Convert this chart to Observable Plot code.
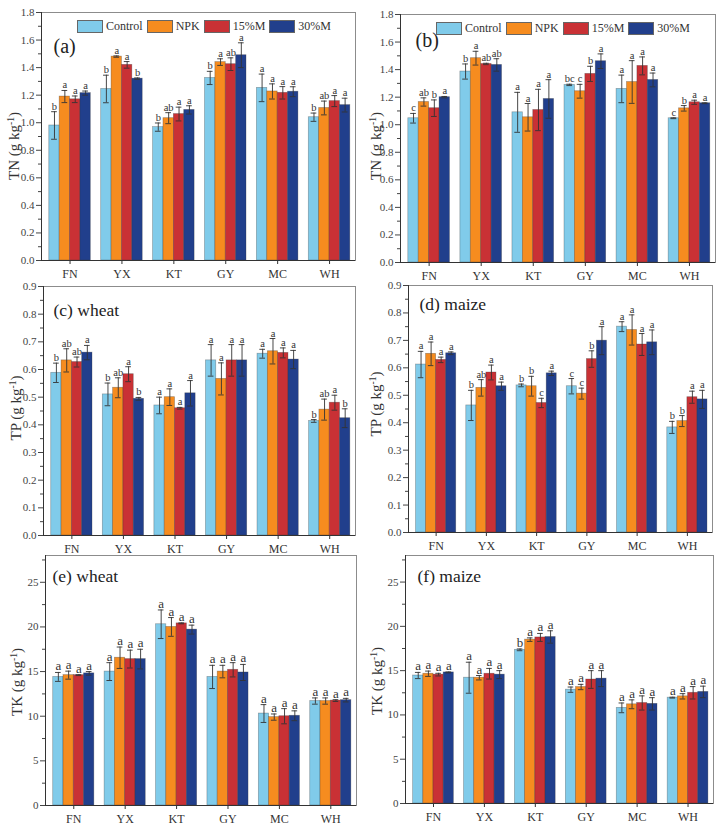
<!DOCTYPE html>
<html>
<head>
<meta charset="utf-8">
<script src="https://cdn.jsdelivr.net/npm/d3@7"></script>
<script src="https://cdn.jsdelivr.net/npm/@observablehq/plot@0.6"></script>
<style>
  body { margin: 0; background: #fff; }
  #fig { position: relative; width: 721px; height: 828px; overflow: hidden;
         font-family: "Liberation Serif", "Times New Roman", serif; }
  #fig > svg { position: absolute; }
  .legend { position: absolute; display: flex; align-items: center; font-size: 12px;
            line-height: 13px; color: #333; white-space: nowrap; }
  .legend .sw { display: inline-block; width: 24px; height: 11px; border: 1px solid #666; margin-right: 3px; }
  .legend .lb { margin-right: 4px; }
</style>
</head>
<body>
<div id="fig"></div>
<script>
// Sites and fertilisation treatments
const sites = ["FN", "YX", "KT", "GY", "MC", "WH"];
const treatments = ["Control", "NPK", "15%M", "30%M"];
const colors = ["#80CBEA", "#F68C1F", "#C93135", "#213F8C"];

// Rows follow `sites`, columns follow `treatments`.
// (a) TN, wheat season
const tnA_mean = [
  [0.98, 1.19, 1.17, 1.215],
  [1.245, 1.48, 1.42, 1.32],
  [0.968, 1.033, 1.063, 1.093],
  [1.325, 1.44, 1.425, 1.49],
  [1.253, 1.227, 1.217, 1.225],
  [1.04, 1.107, 1.157, 1.128]
];
const tnA_err = [
  [0.10, 0.044, 0.024, 0.015],
  [0.10, 0.005, 0.024, 0.005],
  [0.03, 0.04, 0.05, 0.03],
  [0.048, 0.024, 0.046, 0.09],
  [0.10, 0.055, 0.045, 0.036],
  [0.03, 0.05, 0.04, 0.05]
];
const tnA_letters = [
  ["b", "a", "a", "a"], ["b", "a", "a", "b"], ["b", "ab", "a", "a"],
  ["b", "a", "ab", "a"], ["a", "a", "a", "a"], ["b", "ab", "a", "a"]
];

// (b) TN, maize season
const tnB_mean = [
  [1.047, 1.165, 1.12, 1.2],
  [1.386, 1.483, 1.441, 1.434],
  [1.09, 1.054, 1.107, 1.187],
  [1.289, 1.243, 1.369, 1.461],
  [1.26, 1.31, 1.427, 1.325],
  [1.047, 1.119, 1.163, 1.156]
];
const tnB_err = [
  [0.035, 0.03, 0.06, 0.005],
  [0.055, 0.05, 0.005, 0.045],
  [0.145, 0.10, 0.15, 0.14],
  [0.005, 0.05, 0.055, 0.053],
  [0.10, 0.155, 0.065, 0.05],
  [0.003, 0.02, 0.015, 0.003]
];
const tnB_letters = [
  ["c", "ab", "b", "a"], ["b", "a", "ab", "ab"], ["a", "a", "a", "a"],
  ["bc", "c", "b", "a"], ["a", "a", "a", "a"], ["c", "b", "a", "a"]
];

// (c) TP, wheat
const tpC_mean = [
  [0.588, 0.633, 0.627, 0.661],
  [0.51, 0.534, 0.583, 0.494],
  [0.47, 0.50, 0.46, 0.514],
  [0.633, 0.566, 0.633, 0.633],
  [0.657, 0.666, 0.66, 0.636],
  [0.414, 0.455, 0.48, 0.424]
];
const tpC_err = [
  [0.035, 0.042, 0.018, 0.026],
  [0.041, 0.036, 0.027, 0.005],
  [0.03, 0.03, 0.003, 0.046],
  [0.057, 0.058, 0.057, 0.057],
  [0.016, 0.046, 0.018, 0.033],
  [0.005, 0.038, 0.027, 0.034]
];
const tpC_letters = [
  ["b", "ab", "ab", "a"], ["b", "ab", "a", "b"], ["a", "a", "a", "a"],
  ["a", "a", "a", "a"], ["a", "a", "a", "a"], ["b", "ab", "a", "b"]
];

// (d) TP, maize
const tpD_mean = [
  [0.612, 0.651, 0.629, 0.653],
  [0.463, 0.527, 0.583, 0.533],
  [0.536, 0.533, 0.472, 0.58],
  [0.533, 0.506, 0.632, 0.699],
  [0.75, 0.738, 0.685, 0.693],
  [0.383, 0.406, 0.493, 0.485]
];
const tpD_err = [
  [0.048, 0.043, 0.01, 0.005],
  [0.055, 0.03, 0.027, 0.015],
  [0.005, 0.036, 0.017, 0.008],
  [0.028, 0.02, 0.03, 0.051],
  [0.018, 0.055, 0.04, 0.045],
  [0.022, 0.02, 0.022, 0.033]
];
const tpD_letters = [
  ["a", "a", "a", "a"], ["b", "ab", "a", "a"], ["b", "b", "c", "a"],
  ["c", "c", "b", "a"], ["a", "a", "a", "a"], ["b", "b", "a", "a"]
];

// (e) TK, wheat
const tkE_mean = [
  [14.4, 14.6, 14.6, 14.8],
  [15.0, 16.55, 16.4, 16.4],
  [20.3, 20.0, 20.4, 19.7],
  [14.4, 15.0, 15.2, 14.9],
  [10.3, 9.9, 10.0, 10.05],
  [11.7, 11.7, 11.75, 11.8]
];
const tkE_err = [
  [0.5, 0.45, 0.05, 0.2],
  [1.0, 1.2, 1.0, 1.1],
  [1.6, 1.05, 0.05, 0.5],
  [1.3, 0.7, 0.8, 0.9],
  [1.0, 0.35, 0.85, 0.55],
  [0.35, 0.35, 0.1, 0.2]
];
const tkE_letters = [
  ["a", "a", "a", "a"], ["a", "a", "a", "a"], ["a", "a", "a", "a"],
  ["a", "a", "a", "a"], ["a", "a", "a", "a"], ["a", "a", "a", "a"]
];

// (f) TK, maize
const tkF_mean = [
  [14.45, 14.65, 14.55, 14.8],
  [14.2, 14.2, 14.65, 14.55],
  [17.35, 18.5, 18.75, 18.8],
  [12.85, 13.15, 14.0, 14.1],
  [10.8, 11.2, 11.35, 11.25],
  [11.95, 12.1, 12.5, 12.6]
];
const tkF_err = [
  [0.35, 0.3, 0.15, 0.05],
  [1.75, 0.25, 0.6, 0.45],
  [0.1, 0.2, 0.45, 0.7],
  [0.3, 0.3, 1.0, 0.9],
  [0.55, 0.5, 0.8, 0.7],
  [0.05, 0.3, 0.7, 0.65]
];
const tkF_letters = [
  ["a", "a", "a", "a"], ["a", "a", "a", "a"], ["b", "a", "a", "a"],
  ["a", "a", "a", "a"], ["a", "a", "a", "a"], ["a", "a", "a", "a"]
];

// Layout of the six panels (page position, margins, axes, annotations)
const panels = [
  {left: 0, top: 0, w: 360, h: 285, m: [41, 12, 5, 25], means: tnA_mean, errs: tnA_err, letters: tnA_letters,
   yMax: 1.8, major: 0.2, minor: 0.1, fmt: ".1f", name: "TN", tag: "(a)", tagSize: 20, tagAt: [12, 26],
   titleAt: [18.5, 146], letterSize: 10.5, legendAt: [77, 20]},
  {left: 360, top: 0, w: 361, h: 285, m: [40, 14, 6, 23], means: tnB_mean, errs: tnB_err, letters: tnB_letters,
   yMax: 1.8, major: 0.2, minor: 0.1, fmt: ".1f", name: "TN", tag: "(b)", tagSize: 20, tagAt: [15, 18],
   titleAt: [20.5, 146], letterSize: 10.5, legendAt: [436, 22]},
  {left: 0, top: 270, w: 360, h: 285, m: [43, 16, 5, 20], means: tpC_mean, errs: tpC_err, letters: tpC_letters,
   yMax: 0.9, major: 0.1, minor: 0.05, fmt: ".1f", name: "TP", tag: "(c) wheat", tagSize: 17.5, tagAt: [10, 17],
   titleAt: [21, 138], letterSize: 10.5},
  {left: 360, top: 270, w: 361, h: 285, m: [48, 15, 9, 23], means: tpD_mean, errs: tpD_err, letters: tpD_letters,
   yMax: 0.9, major: 0.1, minor: 0.05, fmt: ".1f", name: "TP", tag: "(d) maize", tagSize: 17.5, tagAt: [11, 12],
   titleAt: [20.5, 134], letterSize: 10.5},
  {left: 0, top: 540, w: 360, h: 288, m: [45, 15, 4, 23], means: tkE_mean, errs: tkE_err, letters: tkE_letters,
   yMax: 28, major: 5, minor: 2.5, fmt: "d", name: "TK", tag: "(e) wheat", tagSize: 17.5, tagAt: [7, 14],
   titleAt: [21.5, 142], letterSize: 13},
  {left: 360, top: 540, w: 361, h: 288, m: [45, 15, 8, 25], means: tkF_mean, errs: tkF_err, letters: tkF_letters,
   yMax: 28, major: 5, minor: 2.5, fmt: "d", name: "TK", tag: "(f) maize", tagSize: 17.5, tagAt: [12, 14],
   titleAt: [21.5, 141], letterSize: 13}
];

const barW = 0.2;      // bar width in site units
const capHalf = 0.055; // half width of error-bar caps
const xLo = 0.45, xHi = 6.5;
const serif = "Liberation Serif, Times New Roman, serif";

function tidy(means, errs, letters) {
  return sites.flatMap((site, i) => treatments.map((treatment, j) => ({
    site, treatment,
    pos: i + 1 + (j - 1.5) * barW,
    value: means[i][j],
    err: errs[i][j],
    letter: letters[i][j]
  })));
}

const fig = document.getElementById("fig");

for (const p of panels) {
  const data = tidy(p.means, p.errs, p.letters);
  const nMajor = Math.round(Math.floor(p.yMax / p.major + 1e-9));
  const majorTicks = d3.range(0, nMajor + 1).map(k => +(k * p.major).toFixed(4));
  const minorTicks = d3.range(0, Math.floor(p.yMax / p.minor + 1e-9) + 1)
    .map(k => +(k * p.minor).toFixed(4))
    .filter(v => !majorTicks.some(t => Math.abs(t - v) < 1e-9));

  const svg = Plot.plot({
    width: p.w, height: p.h,
    marginLeft: p.m[0], marginTop: p.m[1], marginRight: p.m[2], marginBottom: p.m[3],
    style: {background: "transparent", fontFamily: serif, color: "#333"},
    x: {domain: [xLo, xHi], axis: null},
    y: {domain: [0, p.yMax], axis: null},
    color: {domain: treatments, range: colors},
    marks: [
      Plot.rectY(data, {
        x1: d => d.pos - barW / 2, x2: d => d.pos + barW / 2, y1: 0, y2: "value",
        fill: "treatment", stroke: "#333", strokeOpacity: 0.4, strokeWidth: 0.7
      }),
      Plot.ruleX(data, {x: "pos", y1: d => d.value - d.err, y2: d => d.value + d.err, stroke: "#333", strokeWidth: 0.9}),
      Plot.ruleY(data, {y: d => d.value + d.err, x1: d => d.pos - capHalf, x2: d => d.pos + capHalf, stroke: "#333", strokeWidth: 0.9}),
      Plot.ruleY(data, {y: d => d.value - d.err, x1: d => d.pos - capHalf, x2: d => d.pos + capHalf, stroke: "#333", strokeWidth: 0.9}),
      Plot.text(data, {
        x: "pos", y: d => d.value + d.err, text: "letter", lineAnchor: "bottom", dy: -2,
        fontSize: p.letterSize, fill: "#333"
      }),
      Plot.frame({stroke: "#8c8c8c"}),
      Plot.ruleX([xLo], {stroke: "#333"}),
      Plot.ruleY([0], {stroke: "#333"}),
      Plot.axisY(majorTicks, {
        tickSize: 5, tickPadding: 2, tickFormat: d3.format(p.fmt), fontSize: 11,
        color: "#444", label: null
      }),
      Plot.axisY(minorTicks, {tickSize: 3, tickFormat: () => "", color: "#444", label: null}),
      Plot.axisX([1, 2, 3, 4, 5, 6], {
        tickSize: 4, tickPadding: 5, tickFormat: i => sites[i - 1], fontSize: 12,
        color: "#333", label: null
      }),
      Plot.text([p.tag], {
        frameAnchor: "top-left", dx: p.tagAt[0], dy: p.tagAt[1], lineAnchor: "top",
        textAnchor: "start", fontSize: p.tagSize, fill: "#222"
      })
    ]
  });

  // y-axis title with superscript unit
  const title = d3.select(svg).append("text")
    .attr("transform", `translate(${p.titleAt[0]},${p.titleAt[1]}) rotate(-90)`)
    .attr("text-anchor", "middle")
    .attr("font-size", 15)
    .attr("fill", "#333");
  title.append("tspan").text(`${p.name} (g kg`);
  title.append("tspan").attr("baseline-shift", "super").attr("font-size", 9.5).text("-1");
  title.append("tspan").text(")");

  svg.style.left = p.left + "px";
  svg.style.top = p.top + "px";
  fig.appendChild(svg);

  if (p.legendAt) {
    const lg = document.createElement("div");
    lg.className = "legend";
    lg.style.left = p.legendAt[0] + "px";
    lg.style.top = p.legendAt[1] + "px";
    treatments.forEach((t, j) => {
      const sw = document.createElement("span");
      sw.className = "sw";
      sw.style.background = colors[j];
      const lb = document.createElement("span");
      lb.className = "lb";
      lb.textContent = t;
      lg.append(sw, lb);
    });
    fig.appendChild(lg);
  }
}
</script>
</body>
</html>
